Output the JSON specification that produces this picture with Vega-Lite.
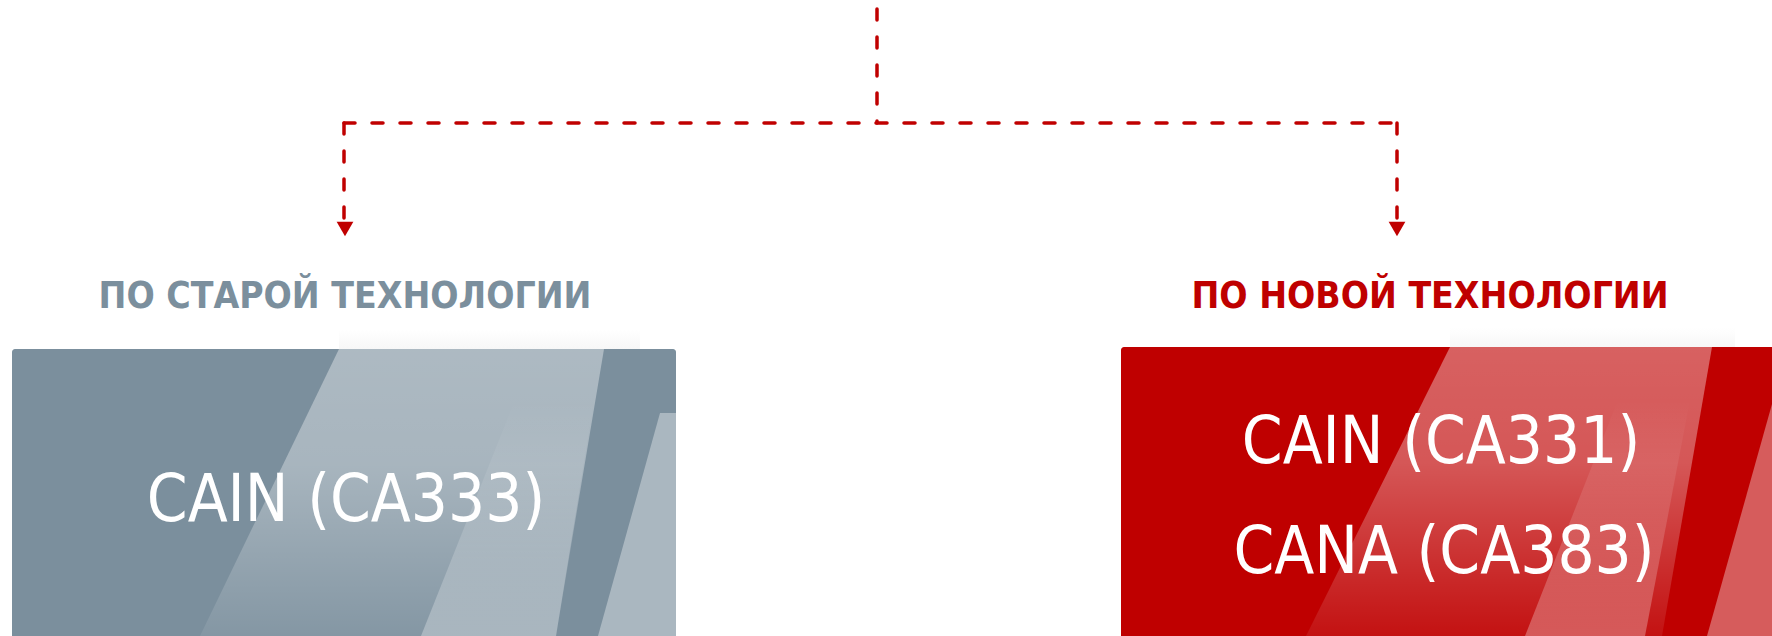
{
  "$schema": "https://vega.github.io/schema/vega-lite/v6.json",
  "width": 1772,
  "height": 636,
  "padding": 0,
  "autosize": {"type": "none"},
  "background": "white",
  "config": {"view": {"stroke": null}},
  "datasets": {
    "glow": [
      {"box": "old", "x1": 339, "x2": 640, "y1": 330, "y2": 349},
      {"box": "new", "x1": 1450, "x2": 1735, "y1": 328, "y2": 347}
    ],
    "boxes": [
      {"box": "old", "x1": 12, "x2": 676, "y1": 349, "y2": 660},
      {"box": "new", "x1": 1121, "x2": 1800, "y1": 347, "y2": 660}
    ],
    "lines": [
      {"seg": "top", "x1": 877, "y1": 9, "x2": 877, "y2": 123},
      {"seg": "bar", "x1": 344, "y1": 123, "x2": 1397, "y2": 123},
      {"seg": "left", "x1": 344, "y1": 123, "x2": 344, "y2": 221},
      {"seg": "right", "x1": 1397, "y1": 123, "x2": 1397, "y2": 221}
    ],
    "arrows": [
      {"side": "old", "x": 345, "y": 229},
      {"side": "new", "x": 1397, "y": 229}
    ],
    "stripesA": [
      {"stripe": "old", "y": 349, "xa": 339, "xb": 604},
      {"stripe": "old", "y": 636, "xa": 200, "xb": 556},
      {"stripe": "new", "y": 347, "xa": 1450, "xb": 1712},
      {"stripe": "new", "y": 636, "xa": 1306, "xb": 1662}
    ],
    "stripesB": [
      {"stripe": "old", "y": 400, "xa": 515, "xb": 594},
      {"stripe": "old", "y": 636, "xa": 421, "xb": 556},
      {"stripe": "new", "y": 400, "xa": 1618, "xb": 1690},
      {"stripe": "new", "y": 636, "xa": 1525, "xb": 1645}
    ],
    "stripesC": [
      {"stripe": "old", "y": 413, "xa": 660, "xb": 676},
      {"stripe": "old", "y": 636, "xa": 598, "xb": 676},
      {"stripe": "new", "y": 404, "xa": 1772, "xb": 1772},
      {"stripe": "new", "y": 636, "xa": 1707, "xb": 1772}
    ],
    "titles": [
      {"side": "old", "x": 345, "y": 308, "label": "ПО СТАРОЙ ТЕХНОЛОГИИ"},
      {"side": "new", "x": 1430, "y": 308, "label": "ПО НОВОЙ ТЕХНОЛОГИИ"}
    ],
    "codes": [
      {"side": "old", "x": 346, "y": 521, "label": "CAIN (CA333)"},
      {"side": "new", "x": 1441, "y": 463, "label": "CAIN (CA331)"},
      {"side": "new", "x": 1444, "y": 573, "label": "CANA (CA383)"}
    ]
  },
  "layer": [
    {
      "data": {"name": "glow"},
      "mark": {"type": "rect", "color": {"gradient": "linear", "x1": 0, "y1": 0, "x2": 0, "y2": 1, "stops": [{"offset": 0, "color": "#ffffff"}, {"offset": 1, "color": "#f7f7f7"}]}},
      "encoding": {
        "x": {"field": "x1", "type": "quantitative", "scale": {"domain": [0, 1772], "nice": false, "zero": false}, "axis": null},
        "x2": {"field": "x2"},
        "y": {"field": "y1", "type": "quantitative", "scale": {"domain": [0, 636], "nice": false, "zero": false, "reverse": true}, "axis": null},
        "y2": {"field": "y2"}
      }
    },
    {
      "data": {"name": "boxes"},
      "mark": {"type": "rect", "cornerRadius": 3},
      "encoding": {
        "x": {"field": "x1", "type": "quantitative", "scale": {"domain": [0, 1772], "nice": false, "zero": false}, "axis": null},
        "x2": {"field": "x2"},
        "y": {"field": "y1", "type": "quantitative", "scale": {"domain": [0, 636], "nice": false, "zero": false, "reverse": true}, "axis": null},
        "y2": {"field": "y2"},
        "color": {"field": "box", "type": "nominal", "scale": {"domain": ["old", "new"], "range": ["#7b8f9d", "#bf0000"]}, "legend": null}
      }
    },
    {
      "data": {"name": "stripesA"},
      "mark": {"type": "area", "orient": "horizontal", "color": {"gradient": "linear", "x1": 0, "y1": 0, "x2": 0, "y2": 1, "stops": [{"offset": 0, "color": "rgba(255,255,255,0.38)"}, {"offset": 0.4, "color": "rgba(255,255,255,0.34)"}, {"offset": 1, "color": "rgba(255,255,255,0.07)"}]}},
      "encoding": {
        "y": {"field": "y", "type": "quantitative", "scale": {"domain": [0, 636], "nice": false, "zero": false, "reverse": true}, "axis": null},
        "x": {"field": "xa", "type": "quantitative", "scale": {"domain": [0, 1772], "nice": false, "zero": false}, "axis": null},
        "x2": {"field": "xb"},
        "detail": {"field": "stripe", "type": "nominal"}
      }
    },
    {
      "data": {"name": "stripesB"},
      "mark": {"type": "area", "orient": "horizontal", "color": {"gradient": "linear", "x1": 0, "y1": 0, "x2": 0, "y2": 1, "stops": [{"offset": 0, "color": "rgba(255,255,255,0)"}, {"offset": 0.5, "color": "rgba(255,255,255,0.14)"}, {"offset": 1, "color": "rgba(255,255,255,0.3)"}]}},
      "encoding": {
        "y": {"field": "y", "type": "quantitative", "scale": {"domain": [0, 636], "nice": false, "zero": false, "reverse": true}, "axis": null},
        "x": {"field": "xa", "type": "quantitative", "scale": {"domain": [0, 1772], "nice": false, "zero": false}, "axis": null},
        "x2": {"field": "xb"},
        "detail": {"field": "stripe", "type": "nominal"}
      }
    },
    {
      "data": {"name": "stripesC"},
      "mark": {"type": "area", "orient": "horizontal", "color": "white", "opacity": 0.36},
      "encoding": {
        "y": {"field": "y", "type": "quantitative", "scale": {"domain": [0, 636], "nice": false, "zero": false, "reverse": true}, "axis": null},
        "x": {"field": "xa", "type": "quantitative", "scale": {"domain": [0, 1772], "nice": false, "zero": false}, "axis": null},
        "x2": {"field": "xb"},
        "detail": {"field": "stripe", "type": "nominal"}
      }
    },
    {
      "data": {"name": "lines"},
      "mark": {"type": "rule", "color": "#c00000", "strokeWidth": 3.5, "strokeCap": "round", "strokeDash": [11, 17]},
      "encoding": {
        "x": {"field": "x1", "type": "quantitative", "scale": {"domain": [0, 1772], "nice": false, "zero": false}, "axis": null},
        "y": {"field": "y1", "type": "quantitative", "scale": {"domain": [0, 636], "nice": false, "zero": false, "reverse": true}, "axis": null},
        "x2": {"field": "x2"},
        "y2": {"field": "y2"}
      }
    },
    {
      "data": {"name": "arrows"},
      "mark": {"type": "point", "shape": "triangle-down", "filled": true, "color": "#c00000", "size": 280, "opacity": 1},
      "encoding": {
        "x": {"field": "x", "type": "quantitative", "scale": {"domain": [0, 1772], "nice": false, "zero": false}, "axis": null},
        "y": {"field": "y", "type": "quantitative", "scale": {"domain": [0, 636], "nice": false, "zero": false, "reverse": true}, "axis": null}
      }
    },
    {
      "data": {"name": "titles"},
      "mark": {"type": "text", "font": "DejaVu Sans Condensed, DejaVu Sans, sans-serif", "fontWeight": "bold", "fontSize": 37, "align": "center", "baseline": "alphabetic"},
      "encoding": {
        "x": {"field": "x", "type": "quantitative", "scale": {"domain": [0, 1772], "nice": false, "zero": false}, "axis": null},
        "y": {"field": "y", "type": "quantitative", "scale": {"domain": [0, 636], "nice": false, "zero": false, "reverse": true}, "axis": null},
        "text": {"field": "label"},
        "color": {"field": "side", "type": "nominal", "scale": {"domain": ["old", "new"], "range": ["#7b8f9d", "#d0112b"]}, "legend": null}
      }
    },
    {
      "data": {"name": "codes"},
      "mark": {"type": "text", "font": "DejaVu Sans Condensed, DejaVu Sans, sans-serif", "fontSize": 65, "align": "center", "baseline": "alphabetic", "color": "white"},
      "encoding": {
        "x": {"field": "x", "type": "quantitative", "scale": {"domain": [0, 1772], "nice": false, "zero": false}, "axis": null},
        "y": {"field": "y", "type": "quantitative", "scale": {"domain": [0, 636], "nice": false, "zero": false, "reverse": true}, "axis": null},
        "text": {"field": "label"}
      }
    }
  ]
}
